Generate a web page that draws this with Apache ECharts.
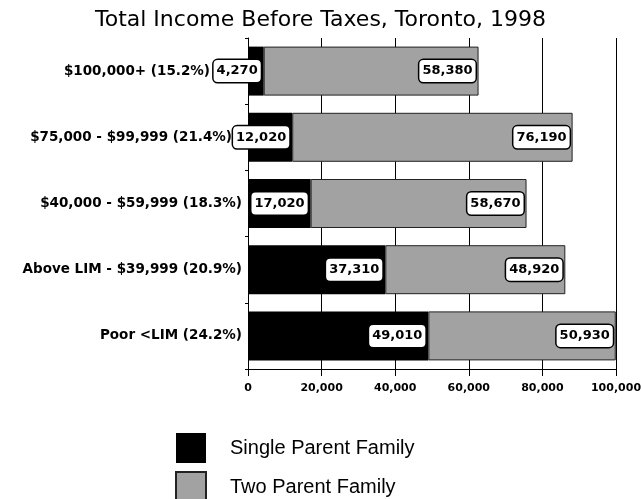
<!DOCTYPE html>
<html>
<head>
<meta charset="utf-8">
<script src="https://cdn.jsdelivr.net/npm/echarts@6/dist/echarts.min.js"></script>
<style>
  html, body { margin: 0; padding: 0; background: #fff; }
  #chart { width: 641px; height: 499px; }
</style>
</head>
<body>
<div id="chart"></div>
<script>
const categories = [
  "$100,000+ (15.2%)",
  "$75,000 - $99,999 (21.4%)",
  "$40,000 - $59,999 (18.3%)",
  "Above LIM - $39,999 (20.9%)",
  "Poor <LIM (24.2%)",
]
const singleParent = [4270, 12020, 17020, 37310, 49010]
const twoParent = [58380, 76190, 58670, 48920, 50930]
const xTicks = [0, 20000, 40000, 60000, 80000, 100000]

// extra room on the right of the top labels so the value boxes do not cover them
const labelPad = [38, 16, 6, 6, 6]

const arial = "Arial, 'Liberation Sans', sans-serif"
const wide = "'DejaVu Sans', sans-serif"

const valueLabel = {
  show: true,
  position: "insideRight",
  distance: 3,
  formatter: (p) => p.value.toLocaleString("en-US"),
  color: "#000",
  fontFamily: wide,
  fontWeight: "bold",
  fontSize: 13,
  backgroundColor: "#fff",
  borderColor: "#000",
  borderWidth: 1.5,
  borderRadius: 4,
  padding: [5, 3, 4, 3],
}

const chart = echarts.init(document.getElementById("chart"))
chart.setOption({
  animation: false,
  title: {
    text: "Total Income Before Taxes, Toronto, 1998",
    left: "center",
    top: 4,
    textStyle: { fontFamily: wide, fontWeight: "normal", fontSize: 22, color: "#000" },
  },
  legend: {
    orient: "vertical",
    left: 175,
    top: 433,
    height: 120,
    padding: 0,
    itemWidth: 30,
    itemHeight: 30,
    itemGap: 8,
    icon: "rect",
    textStyle: { fontFamily: arial, fontSize: 20, color: "#000", padding: [0, 0, 0, 19] },
    data: ["Single Parent Family", "Two Parent Family"],
  },
  grid: { left: 248, right: 25, top: 38, bottom: 130, outerBoundsMode: "none" },
  xAxis: {
    type: "value",
    min: xTicks[0],
    max: xTicks[xTicks.length - 1],
    interval: 20000,
    axisLine: { show: true, lineStyle: { color: "#000", width: 1 } },
    axisTick: { show: true, length: 7, lineStyle: { color: "#000" } },
    splitLine: { show: true, lineStyle: { color: "#000", width: 1 } },
    axisLabel: {
      margin: 14,
      color: "#000",
      fontFamily: wide,
      fontWeight: "bold",
      fontSize: 11,
      formatter: (v) => v.toLocaleString("en-US"),
    },
  },
  yAxis: {
    type: "category",
    inverse: true,
    data: categories,
    axisLine: { show: true, lineStyle: { color: "#000", width: 1 } },
    axisTick: { show: true, length: 3, lineStyle: { color: "#000" } },
    axisLabel: {
      margin: 0,
      color: "#000",
      fontFamily: wide,
      fontWeight: "bold",
      fontSize: 13.5,
      formatter: (v, i) => "{p" + i + "|" + v + "}",
      rich: Object.fromEntries(
        labelPad.map((pad, i) => [
          "p" + i,
          { padding: [0, pad, 0, 0], fontFamily: wide, fontWeight: "bold", fontSize: 13.5, color: "#000" },
        ])
      ),
    },
  },
  series: [
    {
      name: "Single Parent Family",
      type: "bar",
      stack: "total",
      barCategoryGap: "26%",
      data: singleParent,
      itemStyle: { color: "#000" },
      label: valueLabel,
    },
    {
      name: "Two Parent Family",
      type: "bar",
      stack: "total",
      barCategoryGap: "26%",
      data: twoParent,
      itemStyle: { color: "#a2a2a2", borderColor: "#222", borderWidth: 1 },
      label: valueLabel,
    },
  ],
})
</script>
</body>
</html>
